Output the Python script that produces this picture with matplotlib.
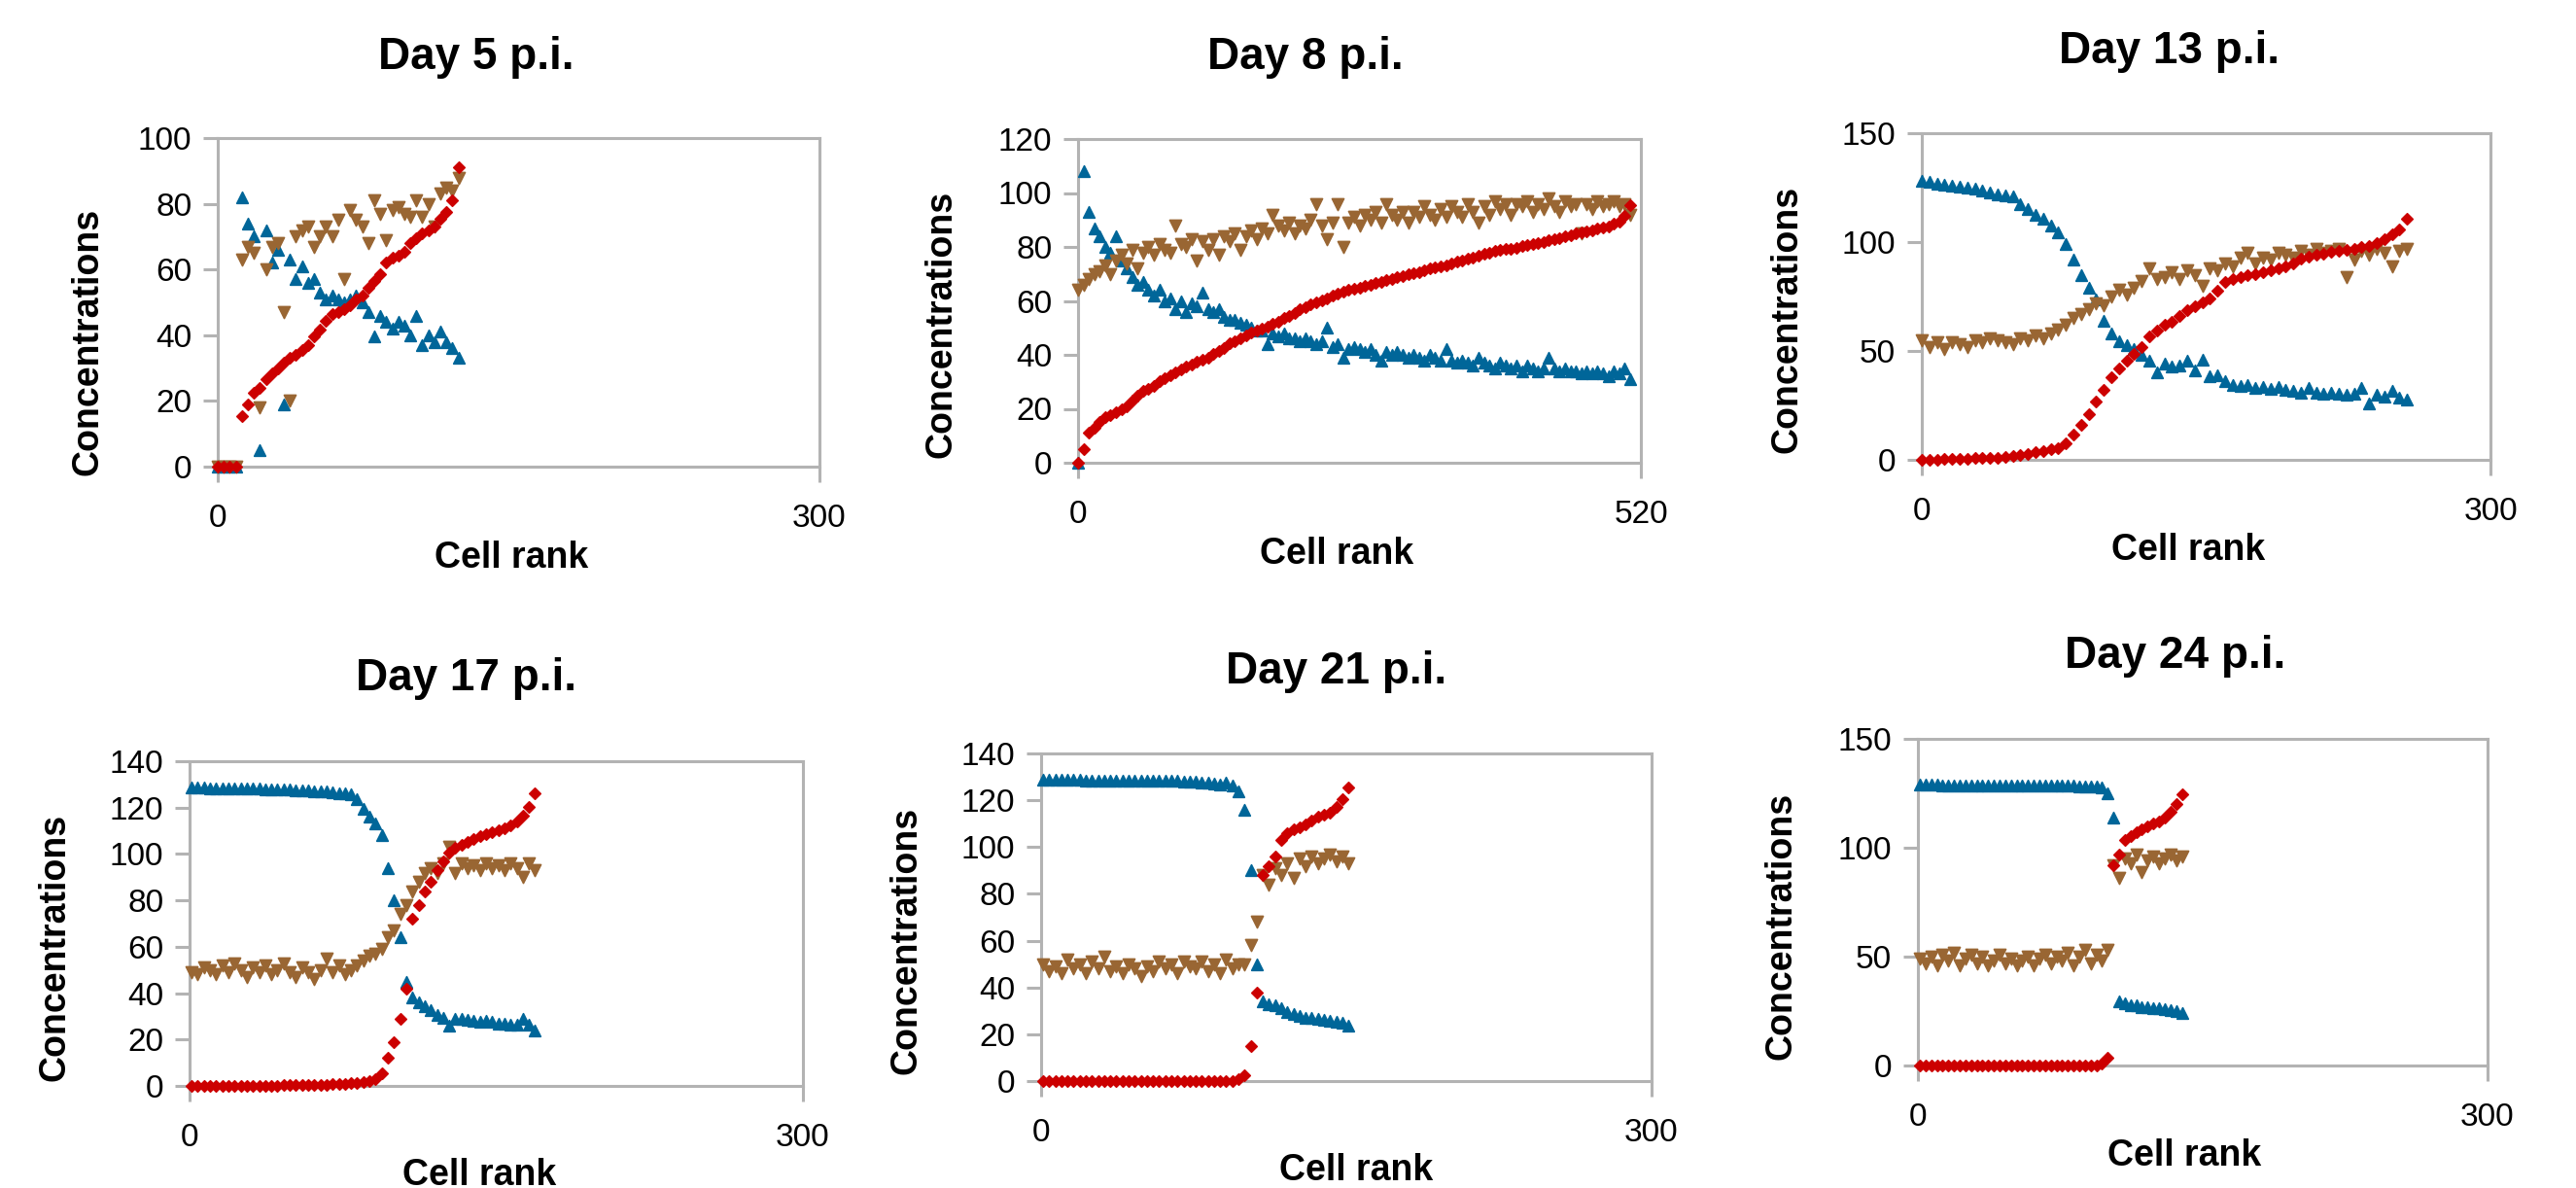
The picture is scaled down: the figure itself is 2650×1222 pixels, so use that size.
import matplotlib
matplotlib.use("Agg")
import matplotlib.pyplot as plt
import numpy as np

plt.rcParams["font.family"] = ["Liberation Sans", "DejaVu Sans"]

# ---- data (cell rank vs concentration) ----
# Day 5
d5_rank = np.arange(0, 121, 3)
d5_blue = [0, 0, 0, 0,
           82, 74, 70, 5, 72, 62, 66, 19, 63, 57, 61, 56, 57, 53, 51, 52, 51, 50, 51,
           52, 50, 47, 39.5, 46, 44, 42, 44, 43, 40, 46, 37, 40, 38, 41, 38, 36, 33]
d5_brown = [0, 0, 0, 0,
            63, 67, 65, 18, 60, 67, 68, 47, 20, 70, 72, 73, 67, 70, 73, 70, 75, 57, 78,
            75, 73, 68, 81, 77, 69, 78, 79, 77, 76, 81, 76, 80, 73, 83, 85, 84, 88]
d5_red = [0, 0, 0, 0,
          15.5, 19, 22.5, 24, 26.5, 28.5, 30, 31.8, 33, 34, 35.5, 37, 39.5, 41.7, 44.5,
          46.5, 47, 48, 49.2, 51, 52.2, 54.5, 56.5, 58.5, 62, 63.5, 64.2, 65.5, 68,
          69.5, 71, 72, 73.2, 75.5, 77.5, 81, 91]

# Day 8
d8_rank = np.arange(0, 511, 5)
d8_blue = [0, 108, 93, 87, 84, 80, 78, 84, 75, 72,
           69, 66, 67, 64, 62, 64, 60, 61, 57, 60,
           56, 59, 58, 63, 57, 56, 57, 54, 53, 53,
           52, 51, 50, 49, 49, 44, 48, 47, 48, 46,
           46, 45, 46, 45, 44, 45, 50, 43, 44, 39,
           42, 43, 42, 41, 42, 40, 38, 41, 40, 41,
           40, 39, 40, 39, 38, 40, 39, 38, 42, 38,
           37, 38, 37, 36, 39, 37, 36, 35, 37, 36,
           35, 36, 34, 36, 35, 34, 35, 39, 35, 34,
           35, 34, 34, 33, 34, 33, 34, 33, 32, 34,
           33, 35, 31]
d8_brown = [64, 66, 68, 70, 71, 73, 70, 75, 77, 74,
            79, 72, 78, 80, 77, 81, 79, 78, 88, 81,
            80, 83, 75, 82, 79, 83, 77, 84, 82, 85,
            79, 84, 86, 83, 87, 85, 92, 88, 86, 89,
            85, 88, 87, 90, 96, 88, 83, 89, 96, 80,
            89, 91, 88, 92, 90, 93, 89, 96, 92, 90,
            93, 89, 93, 91, 95, 92, 90, 94, 91, 95,
            93, 91, 96, 93, 89, 95, 92, 97, 94, 96,
            92, 96, 95, 97, 93, 96, 94, 98, 95, 93,
            97, 95, 96, 85, 96, 94, 97, 95, 96, 97,
            95, 96, 92]
d8_red = [0, 5, 11, 13, 15.3, 16.8, 17.8, 18.7, 20, 21,
          23, 25, 26.7, 27.5, 28.5, 30.3, 31.2, 32.3, 33.5, 34.6,
          35.6, 36.5, 37.4, 38.2, 39, 40.2, 41.3, 42.6, 44.2, 45.2,
          46.3, 47.3, 48.2, 49, 49.7, 50.5, 51.4, 52.4, 53.6, 54.5,
          55.6, 56.8, 57.7, 58.6, 59.3, 60.2, 61, 61.9, 62.7, 63.4,
          64, 64.5, 65, 65.5, 66, 66.6, 67.2, 67.6, 68.2, 68.7,
          69.3, 69.8, 70.3, 70.8, 71.3, 71.9, 72.4, 72.8, 73.3, 73.9,
          74.5, 75, 75.6, 76.2, 76.8, 77.3, 77.9, 78.5, 78.9, 79.2,
          79.4, 79.8, 80.2, 80.6, 81, 81.4, 81.9, 82.4, 82.9, 83.4,
          84, 84.5, 84.9, 85.4, 85.8, 86.3, 86.8, 87.2, 87.6, 88.5,
          89.5, 91.5, 95.5]

# Day 13
d13_rank = np.arange(0, 257, 4)
d13_blue = [128, 127.5, 127, 126.5, 126, 125.5, 125, 124.5, 123.5, 122.8,
            122, 121.5, 120.8, 117.5, 115, 112.5, 110.5, 107.5, 104.5, 99,
            92, 85, 79, 73.5, 64, 58, 54.5, 52.5, 51, 48,
            45.5, 40, 44, 43, 43.5, 45.5, 41, 46, 38.5, 39,
            36, 34.5, 34, 34.5, 33, 33.5, 32.8, 33.5, 32, 31.5,
            31, 33, 31, 30.5, 31, 30.5, 30, 30.5, 33, 26,
            30, 29, 31.5, 28.5, 27.5]
d13_brown = [55, 52, 54, 51, 54, 53, 52, 55, 54, 56,
             55, 54, 53, 56, 55, 57, 56, 58, 60, 62,
             65, 67, 69, 72, 71, 75, 78, 76, 79, 82,
             88, 83, 84, 86, 83, 87, 85, 80, 88, 87,
             90, 89, 93, 95, 90, 93, 92, 95, 94, 93,
             96, 94, 97, 95, 96, 97, 84, 92, 96, 94,
             97, 95, 89, 96, 97]
d13_red = [0, 0.1, 0.2, 0.3, 0.4, 0.5, 0.6, 0.7, 0.8, 0.9,
           1.1, 1.3, 1.6, 2.2, 2.9, 3.6, 4.2, 4.7, 5.2, 7.8,
           11.5, 16, 21, 27, 32, 38, 42, 45.5, 48.5, 52,
           56.5, 59.5, 62, 63.5, 66, 68.8, 70.7, 72.5, 74.3, 77.5,
           81.5, 83, 83.8, 84.6, 85.3, 86, 87, 87.8, 89, 90.3,
           92.2, 93.2, 94, 94.8, 95.5, 96.1, 96.5, 96.9, 97.6, 98.4,
           99.6, 101.3, 103.5, 105.8, 110.5]

# Day 17
d17_rank = np.arange(1, 170, 3)
d17_blue = [128.5, 128.5, 128.5, 128.4, 128.4, 128.3, 128.3, 128.3, 128.2, 128.2,
            128.1, 128.1, 128, 128, 127.9, 127.8, 127.7, 127.6, 127.5, 127.4,
            127.2, 127.1, 126.9, 126.6, 126.3, 126, 125.6, 123.5, 119.5, 116,
            113, 108, 94, 80, 64, 45, 38, 36, 34.5, 32.5,
            30.5, 29.5, 26, 29, 28.8, 28.5, 28.2, 27.5, 28, 27.5,
            27, 26.8, 26.5, 26.2, 29, 26.5, 24]
d17_brown = [49, 48, 51, 50, 48, 52, 49, 53, 50, 47,
             51, 49, 52, 48, 50, 53, 49, 47, 51, 49,
             46, 50, 55, 49, 52, 48, 50, 52, 54, 56,
             57, 59, 64, 67, 74, 78, 84, 88, 92, 94,
             92, 96, 103, 92, 96, 94, 95, 93, 96, 94,
             95, 93, 96, 94, 90, 96, 93]
d17_red = [0, 0, 0, 0, 0, 0, 0, 0.1, 0.1, 0.1,
           0.1, 0.2, 0.2, 0.2, 0.2, 0.3, 0.3, 0.3, 0.4, 0.4,
           0.5, 0.5, 0.6, 0.7, 0.8, 1.0, 1.1, 1.3, 1.8, 2.2,
           3.0, 5.5, 12, 19, 29, 42, 72, 78, 84, 88,
           93, 97, 100.6, 102.5, 104, 105.2, 106.5, 107.6, 108.5, 109.2,
           110.2, 111, 112.5, 114, 116.5, 120.5, 126]

# Day 21
d21_rank = np.arange(1, 152, 3)
d21_blue = [128.6, 128.6, 128.6, 128.6, 128.6, 128.6, 128.6, 128.5, 128.5, 128.5,
            128.5, 128.5, 128.5, 128.5, 128.5, 128.4, 128.4, 128.4, 128.4, 128.3,
            128.3, 128.2, 128.2, 128.1, 128, 127.9, 127.7, 127.5, 127.2, 126.8,
            127.5, 126.3, 124, 116, 90, 50, 34, 33, 32.3, 31,
            29.5, 28.5, 27.8, 27.2, 26.8, 26.4, 26, 25.8, 25.5, 25,
            23.5]
d21_brown = [50, 47, 49, 46, 52, 48, 50, 46, 51, 48,
             53, 47, 49, 46, 50, 48, 45, 49, 47, 51,
             48, 50, 46, 51, 49, 48, 51, 47, 50, 46,
             52, 48, 50, 50, 58, 68, 88, 84, 91, 88,
             93, 87, 95, 92, 96, 93, 95, 97, 94, 96,
             93]
d21_red = [0] * 32 + [1.0, 2.3, 15, 38, 88, 92, 96, 103, 105.8, 107.5,
                      108.5, 109.8, 111.5, 113, 114, 114.8, 117, 120.5, 125.5]

# Day 24
d24_rank = np.arange(1, 140, 3)
d24_blue = [128.8, 128.8, 128.8, 128.8, 128.7, 128.7, 128.7, 128.7, 128.7, 128.7,
            128.7, 128.6, 128.6, 128.6, 128.6, 128.6, 128.6, 128.6, 128.6, 128.6,
            128.5, 128.5, 128.5, 128.5, 128.5, 128.4, 128.4, 128.4, 128.3, 128.3,
            128.2, 128, 127.6, 125, 114, 29.5, 28.5, 27.8, 27.5, 27,
            27, 26.5, 26.2, 25.8, 25.3, 24.8, 24]
d24_brown = [49, 47, 50, 46, 51, 48, 52, 46, 49, 51,
             47, 50, 46, 48, 51, 47, 49, 46, 48, 50,
             46, 49, 51, 47, 50, 48, 52, 46, 50, 53,
             47, 51, 48, 53, 92, 86, 95, 93, 97, 89,
             94, 96, 93, 95, 97, 94, 96]
d24_red = [0] * 32 + [0.8, 3.5, 92, 97, 103.5, 105.5, 107, 108.5, 109.8, 111,
                      112, 114, 116.5, 120, 124.5]

titles = ["Day 5 p.i.", "Day 8 p.i.", "Day 13 p.i.", "Day 17 p.i.", "Day 21 p.i.", "Day 24 p.i."]
ranks = [d5_rank, d8_rank, d13_rank, d17_rank, d21_rank, d24_rank]
blues = [d5_blue, d8_blue, d13_blue, d17_blue, d21_blue, d24_blue]
browns = [d5_brown, d8_brown, d13_brown, d17_brown, d21_brown, d24_brown]
reds = [d5_red, d8_red, d13_red, d17_red, d21_red, d24_red]
x_max = [300, 520, 300, 300, 300, 300]
y_max = [100, 120, 150, 140, 140, 150]
y_step = [20, 20, 50, 20, 20, 50]

# ---- layout in pixels of the 2650x1222 canvas ----
W, H = 2650, 1222
boxes = [(224, 843, 142, 480), (1109, 1688, 143, 476), (1977, 2562, 137, 473),
         (195, 826, 783, 1117), (1071, 1699, 775, 1112), (1973, 2559, 760, 1096)]
title_xy = [(490, 59), (1343, 59), (2231, 53), (480, 698), (1375, 691), (2238, 675)]
xlab_xy = [(526, 574), (1375, 570), (2251, 566), (493, 1209), (1395, 1204), (2247, 1189)]
ylab_xy = [(91, 351), (969, 333), (1838, 328), (57, 974), (932, 967), (1832, 952)]

GRAY = "#b3b3b3"
BLUE, BROWN, RED = "#006699", "#996633", "#cc0000"

fig = plt.figure(figsize=(W / 100, H / 100), dpi=100)

for i in range(6):
    L, R, T, B = boxes[i]
    ax = fig.add_axes([L / W, 1 - B / H, (R - L) / W, (B - T) / H])
    x = ranks[i]
    ax.scatter(x, blues[i], marker="^", s=70, color=BLUE, edgecolors=BLUE,
               linewidths=1.2, zorder=3, clip_on=False)
    ax.scatter(x, browns[i], marker="v", s=76, color=BROWN, edgecolors=BROWN,
               linewidths=1.2, zorder=3.1, clip_on=False)
    ax.scatter(x, reds[i], marker="D", s=34, color=RED, edgecolors=RED,
               linewidths=1.2, zorder=3.2, clip_on=False)

    ax.set_xlim(0, x_max[i])
    ax.set_ylim(0, y_max[i])
    ax.set_xticks([0, x_max[i]])
    ax.set_yticks(np.arange(0, y_max[i] + 1, y_step[i]))
    for sp in ax.spines.values():
        sp.set_color(GRAY)
        sp.set_linewidth(2.2)
    ax.tick_params(axis="y", direction="out", length=10.8, width=2.2, color=GRAY,
                   pad=8.5, labelsize=24)
    ax.tick_params(axis="x", direction="out", length=11.5, width=2.2, color=GRAY,
                   pad=16, labelsize=24)

    fig.text(title_xy[i][0] / W, 1 - title_xy[i][1] / H, titles[i], fontsize=33,
             fontweight="bold", ha="center", va="center")
    fig.text(xlab_xy[i][0] / W, 1 - xlab_xy[i][1] / H, "Cell rank", fontsize=27,
             fontweight="bold", ha="center", va="center")
    fig.text(ylab_xy[i][0] / W, 1 - ylab_xy[i][1] / H, "Concentrations", fontsize=27,
             fontweight="bold", ha="center", va="center", rotation=90)

fig.savefig("out.png", dpi=100)
